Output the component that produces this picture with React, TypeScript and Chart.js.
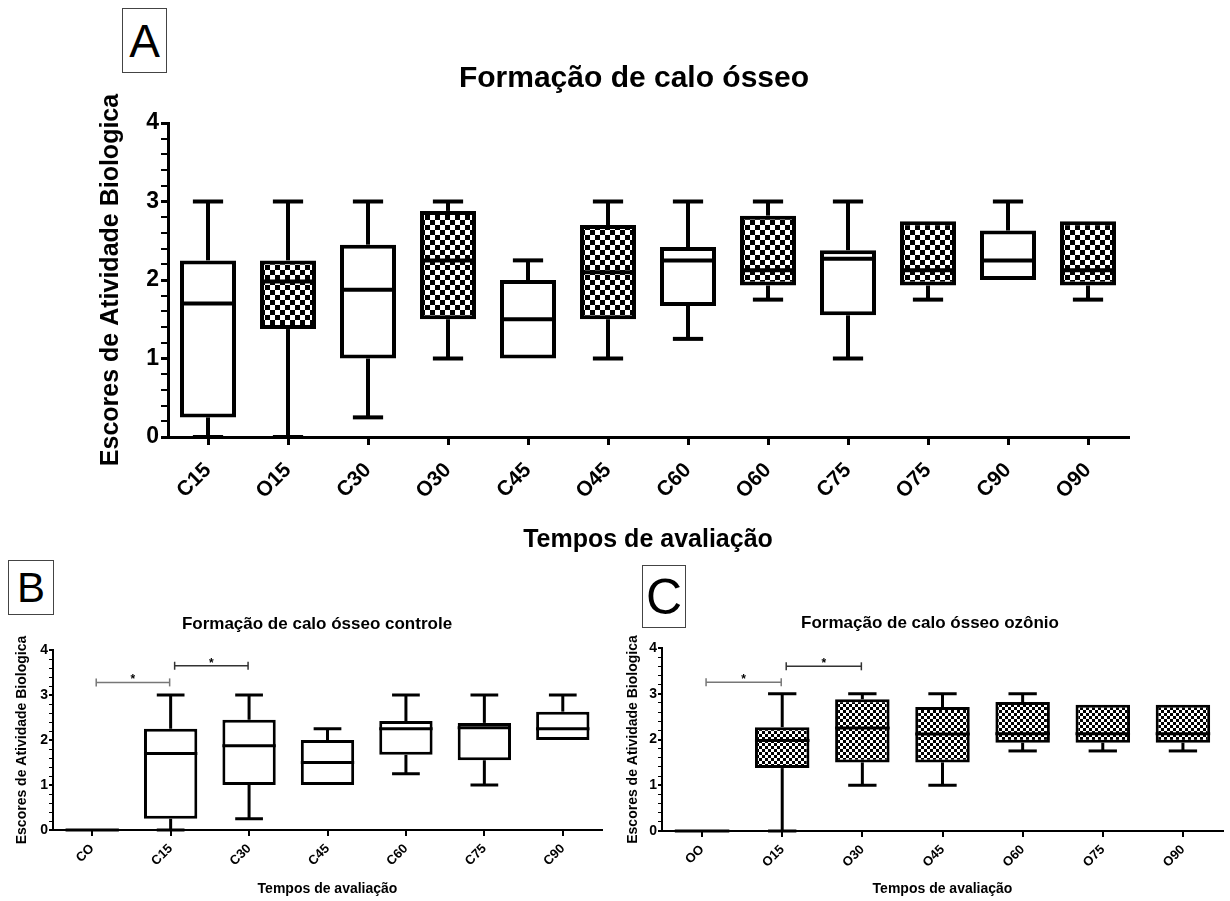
import React, { useEffect, useRef } from 'react';
import { Chart, registerables } from 'chart.js';

Chart.register(...registerables);

const FONT = "'Liberation Sans', Arial, Helvetica, sans-serif";

// ---------- Panel A data ----------
const catsA = ['C15', 'O15', 'C30', 'O30', 'C45', 'O45', 'C60', 'O60', 'C75', 'O75', 'C90', 'O90'];
const minA = [0, 0, 0.25, 1, 1, 1, 1.25, 1.75, 1, 1.75, 2, 1.75];
const q1A = [0.25, 1.375, 1, 1.5, 1, 1.5, 1.67, 1.93, 1.55, 1.93, 2, 1.93];
const medA = [1.7, 1.98, 1.875, 2.25, 1.5, 2.1, 2.25, 2.125, 2.27, 2.125, 2.25, 2.125];
const q3A = [2.25, 2.25, 2.45, 2.88, 2, 2.7, 2.42, 2.82, 2.38, 2.75, 2.63, 2.75];
const maxA = [3, 3, 3, 3, 2.25, 3, 3, 3, 3, 2.75, 3, 2.75];

// ---------- Panel B data ----------
const catsB = ['CO', 'C15', 'C30', 'C45', 'C60', 'C75', 'C90'];
const minB = [0, 0, 0.25, 1, 1.25, 1, 2];
const q1B = [0, 0.25, 1, 1, 1.67, 1.55, 2];
const medB = [0, 1.7, 1.875, 1.5, 2.25, 2.27, 2.25];
const q3B = [0, 2.25, 2.45, 2, 2.42, 2.38, 2.63];
const maxB = [0, 3, 3, 2.25, 3, 3, 3];
const sigFromB = [0, 1];
const sigToB = [1, 2];
const sigYB = [3.28, 3.65];

// ---------- Panel C data ----------
const catsC = ['OO', 'O15', 'O30', 'O45', 'O60', 'O75', 'O90'];
const minC = [0, 0, 1, 1, 1.75, 1.75, 1.75];
const q1C = [0, 1.375, 1.5, 1.5, 1.93, 1.93, 1.93];
const medC = [0, 1.98, 2.25, 2.12, 2.125, 2.125, 2.125];
const q3C = [0, 2.27, 2.88, 2.71, 2.82, 2.76, 2.76];
const maxC = [0, 3, 3, 3, 3, 2.76, 2.76];
const sigFromC = [0, 1];
const sigToC = [1, 2];
const sigYC = [3.25, 3.6];

const sigColors = ['#777777', '#333333'];

const yTickValues = { min: 0, max: 4, step: 0.2 };

function makePattern(ctx, cell, dot) {
  const c = document.createElement('canvas');
  c.width = cell * 2;
  c.height = cell * 2;
  const g = c.getContext('2d');
  g.fillStyle = '#ffffff';
  g.fillRect(0, 0, cell * 2, cell * 2);
  g.fillStyle = '#000000';
  g.fillRect(0, 0, dot, dot);
  g.fillRect(cell, cell, dot, dot);
  return ctx.createPattern(c, 'repeat');
}

function isWhole(v) {
  return Math.abs(v - Math.round(v)) < 1e-6;
}

function makeBoxPlugin(p) {
  return {
    id: 'boxWhiskers',
    afterDatasetsDraw(chart) {
      const y = chart.scales.y;
      const meta = chart.getDatasetMeta(0);
      const ctx = chart.ctx;
      ctx.save();
      ctx.strokeStyle = '#000';
      ctx.lineWidth = p.lw;
      ctx.lineCap = 'butt';
      const line = (x1, y1, x2, y2) => {
        ctx.beginPath();
        ctx.moveTo(x1, y1);
        ctx.lineTo(x2, y2);
        ctx.stroke();
      };
      meta.data.forEach((bar, i) => {
        const props = bar.getProps(['x', 'width'], true);
        const x = props.x;
        const half = props.width / 2;
        const cap = (props.width * p.capRatio) / 2;
        const pMin = y.getPixelForValue(p.mins[i]);
        const pMax = y.getPixelForValue(p.maxs[i]);
        const pQ1 = y.getPixelForValue(p.q1s[i]);
        const pQ3 = y.getPixelForValue(p.q3s[i]);
        const pMed = y.getPixelForValue(p.meds[i]);
        if (p.maxs[i] > p.q3s[i]) {
          line(x, pQ3, x, pMax);
          line(x - cap, pMax, x + cap, pMax);
        }
        if (p.mins[i] < p.q1s[i]) {
          line(x, pQ1, x, pMin);
          line(x - cap, pMin, x + cap, pMin);
        }
        line(x - half, pMed, x + half, pMed);
      });
      if (p.sigFrom) {
        const xs = chart.scales.x;
        p.sigFrom.forEach((f, k) => {
          const x1 = xs.getPixelForValue(f) + 4;
          const x2 = xs.getPixelForValue(p.sigTo[k]) - 1;
          const yy = y.getPixelForValue(p.sigY[k]);
          ctx.strokeStyle = sigColors[k];
          ctx.lineWidth = 1.5;
          line(x1, yy, x2, yy);
          line(x1, yy - 4, x1, yy + 4);
          line(x2, yy - 4, x2, yy + 4);
          ctx.fillStyle = '#000';
          ctx.font = 'bold 12px ' + FONT;
          ctx.textAlign = 'center';
          ctx.textBaseline = 'alphabetic';
          ctx.fillText('*', (x1 + x2) / 2, yy + 1);
        });
      }
      ctx.restore();
    },
  };
}

function Panel(props) {
  const ref = useRef(null);
  const p = props.cfg;
  useEffect(() => {
    const canvas = ref.current;
    const ctx = canvas.getContext('2d');
    const pattern = makePattern(ctx, p.cell, p.dot);
    const boxes = p.cats.map((c, i) => [p.q1s[i], p.q3s[i]]);
    const colors = p.cats.map((c) => (c.charAt(0) === 'O' ? pattern : '#ffffff'));
    const chart = new Chart(ctx, {
      type: 'bar',
      data: {
        labels: p.cats,
        datasets: [
          {
            data: boxes,
            backgroundColor: colors,
            borderColor: '#000',
            borderWidth: p.lw,
            borderSkipped: false,
            barPercentage: p.barPct,
            categoryPercentage: 1,
            clip: 10,
          },
        ],
      },
      options: {
        responsive: false,
        animation: false,
        layout: { padding: p.padding },
        plugins: {
          legend: { display: false },
          tooltip: { enabled: false },
          title: { display: false },
        },
        scales: {
          x: {
            type: 'category',
            offset: true,
            grid: {
              display: true,
              drawOnChartArea: false,
              drawTicks: true,
              tickLength: p.xTickLen,
              color: '#000',
              lineWidth: p.axisW,
              offset: false,
            },
            border: { display: true, color: '#000', width: p.axisW },
            ticks: {
              color: '#000',
              autoSkip: false,
              minRotation: 45,
              maxRotation: 45,
              padding: p.xTickPad,
              font: { family: FONT, size: p.xFont, weight: 'bold' },
            },
            title: {
              display: true,
              text: 'Tempos de avaliação',
              color: '#000',
              font: { family: FONT, size: p.xTitleFont, weight: 'bold' },
              padding: { top: 0, bottom: p.xTitlePad },
            },
            afterFit: (s) => {
              s.height = p.xHeight;
            },
          },
          y: {
            min: yTickValues.min,
            max: yTickValues.max,
            grid: {
              display: true,
              drawOnChartArea: false,
              drawTicks: true,
              tickLength: p.yTickLen,
              color: '#000',
              lineWidth: (c) => (c.tick && isWhole(c.tick.value) ? p.axisW : p.minorW),
            },
            border: { display: true, color: '#000', width: p.axisW },
            ticks: {
              stepSize: yTickValues.step,
              autoSkip: false,
              color: '#000',
              padding: p.yTickPad,
              font: { family: FONT, size: p.yFont, weight: 'bold' },
              callback: (v) => (isWhole(v) ? String(Math.round(v)) : ''),
            },
            title: {
              display: true,
              text: 'Escores de Atividade Biologica',
              color: '#000',
              font: { family: FONT, size: p.yTitleFont, weight: 'bold' },
              padding: { top: 0, bottom: 0 },
            },
            afterFit: (s) => {
              s.width = p.yWidth;
            },
          },
        },
      },
      plugins: [makeBoxPlugin(p)],
    });
    return () => chart.destroy();
  }, []);
  return (
    <canvas
      ref={ref}
      width={p.w}
      height={p.h}
      style={{ position: 'absolute', left: p.left, top: p.top, width: p.w, height: p.h }}
    />
  );
}

const cfgA = {
  cats: catsA, mins: minA, q1s: q1A, meds: medA, q3s: q3A, maxs: maxA,
  left: 0, top: 0, w: 1230, h: 560,
  padding: { top: 123, left: 96, right: 102, bottom: 0 },
  yWidth: 72, xHeight: 123,
  lw: 4, axisW: 3, minorW: 2, capRatio: 0.54, barPct: 0.7,
  cell: 5, dot: 5,
  xTickLen: 8, yTickLen: 7, xTickPad: 13, yTickPad: 2,
  xFont: 21, yFont: 23, xTitleFont: 25, yTitleFont: 25, xTitlePad: 5,
};

const cfgB = {
  cats: catsB, mins: minB, q1s: q1B, meds: medB, q3s: q3B, maxs: maxB,
  sigFrom: sigFromB, sigTo: sigToB, sigY: sigYB,
  left: 0, top: 560, w: 615, h: 341,
  padding: { top: 90, left: 14, right: 13, bottom: 0 },
  yWidth: 39, xHeight: 71,
  lw: 3, axisW: 2, minorW: 1, capRatio: 0.52, barPct: 0.68,
  cell: 3, dot: 3,
  xTickLen: 6, yTickLen: 4, xTickPad: 5, yTickPad: 1,
  xFont: 13, yFont: 14, xTitleFont: 14, yTitleFont: 14, xTitlePad: 3,
};

const cfgC = {
  cats: catsC, mins: minC, q1s: q1C, meds: medC, q3s: q3C, maxs: maxC,
  sigFrom: sigFromC, sigTo: sigToC, sigY: sigYC,
  left: 615, top: 560, w: 615, h: 341,
  padding: { top: 88, left: 10, right: 7, bottom: 0 },
  yWidth: 37, xHeight: 70,
  lw: 3, axisW: 2, minorW: 1, capRatio: 0.52, barPct: 0.68,
  cell: 3, dot: 3,
  xTickLen: 6, yTickLen: 4, xTickPad: 5, yTickPad: 1,
  xFont: 13, yFont: 14, xTitleFont: 14, yTitleFont: 14, xTitlePad: 3,
};

function LetterBox(props) {
  return (
    <div
      style={{
        position: 'absolute',
        left: props.x,
        top: props.y,
        width: props.w,
        height: props.h,
        boxSizing: 'border-box',
        border: '1px solid #444',
        display: 'flex',
        alignItems: 'center',
        justifyContent: 'center',
        fontFamily: FONT,
        fontSize: props.size,
        lineHeight: 1,
        color: '#000',
        background: '#fff',
      }}
    >
      {props.text}
    </div>
  );
}

function Title(props) {
  return (
    <div
      style={{
        position: 'absolute',
        left: props.cx - 300,
        top: props.y,
        width: 600,
        textAlign: 'center',
        fontFamily: FONT,
        fontWeight: 'bold',
        fontSize: props.size,
        lineHeight: props.size + 'px',
        color: '#000',
        whiteSpace: 'nowrap',
      }}
    >
      {props.text}
    </div>
  );
}

export default function App() {
  return (
    <div style={{ position: 'absolute', left: 0, top: 0, width: 1230, height: 901, background: '#fff', overflow: 'hidden' }}>
      <Panel cfg={cfgA} />
      <Panel cfg={cfgB} />
      <Panel cfg={cfgC} />
      <Title text="Formação de calo ósseo" cx={634} y={62} size={30} />
      <Title text="Formação de calo ósseo controle" cx={317} y={615} size={17} />
      <Title text="Formação de calo ósseo ozônio" cx={930} y={614} size={17} />
      <LetterBox text="A" x={122} y={8} w={45} h={65} size={46} />
      <LetterBox text="B" x={8} y={560} w={46} h={55} size={42} />
      <LetterBox text="C" x={642} y={565} w={44} h={63} size={50} />
    </div>
  );
}
